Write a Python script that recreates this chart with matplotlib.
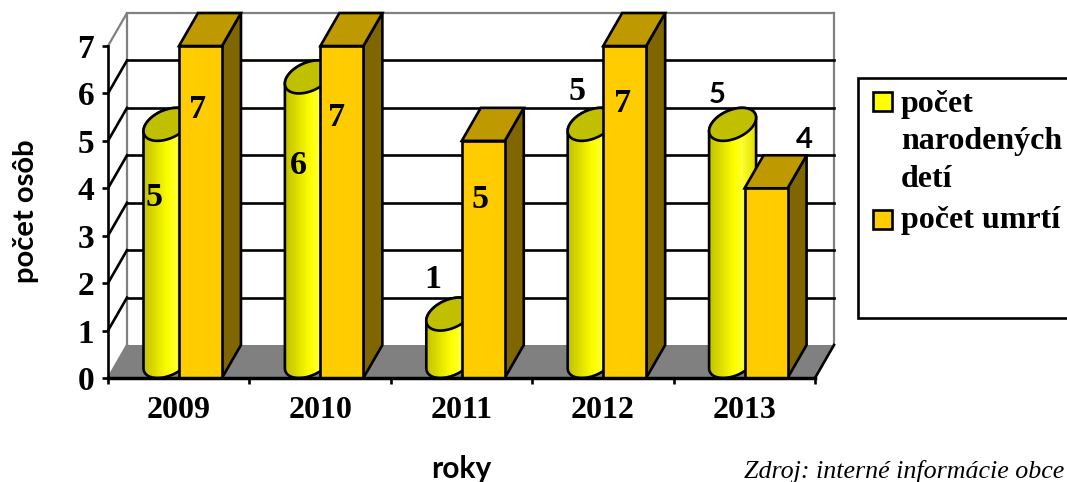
import numpy as np
import matplotlib
matplotlib.use("Agg")
import matplotlib.pyplot as plt
from matplotlib.patches import Polygon, Rectangle
from matplotlib.transforms import Affine2D
from matplotlib.colors import LinearSegmentedColormap

years = ["2009", "2010", "2011", "2012", "2013"]
births = [5, 6, 1, 5, 5]
deaths = [7, 7, 5, 7, 4]
legend_births = ["počet", "narodených", "detí"]
legend_deaths = "počet umrtí"
y_title = "počet osôb"
x_title = "roky"
source = "Zdroj: interné informácie obce"

SERIF = "Liberation Serif"
SANS = "Lato"
W, H = 1067, 482
LW = 1.9
GW = 1.6
fig = plt.figure(figsize=(W / 100, H / 100), dpi=100, facecolor="white")
ax = fig.add_axes([108 / W, (H - 378) / H, 707 / W, 332 / H])
ax.patch.set_visible(False)
px = Affine2D().scale(1 / W, -1 / H).translate(0, 1) + fig.transFigure

ax.set_xlim(0, 5)
ax.set_ylim(0, 7)
DX = 19 / 141.4
DY = 33 / 47.43


def poly(points, **kw):
    kw.setdefault("clip_on", False)
    p = Polygon(points, closed=True, **kw)
    ax.add_patch(p)
    return p


# walls and floor
poly([(0, 0), (DX, DY), (5 + DX, DY), (5, 0)], facecolor="#808080", edgecolor="none", zorder=1)
for v in range(1, 7):
    ax.plot([DX, 5 + DX], [v + DY, v + DY], color="black", lw=LW, clip_on=False, zorder=1.2)
    ax.plot([0, DX], [v, v + DY], color="black", lw=LW, clip_on=False, zorder=1.2)
ax.plot([0, DX, DX], [7, 7 + DY, DY], color="#808080", lw=GW, clip_on=False, zorder=1.1)
ax.plot([5 + DX, 5 + DX], [DY, 7 + DY], color="#808080", lw=GW, clip_on=False, zorder=1.1)
ax.plot([DX, 5 + DX], [7 + DY, 7 + DY], color="#808080", lw=GW, clip_on=False, zorder=1.1)
ax.plot([0, DX], [0, DY], color="#808080", lw=GW, clip_on=False, zorder=1.3)
ax.plot([5, 5 + DX], [0, DY], color="black", lw=LW, clip_on=False, zorder=1.3)

cmap = LinearSegmentedColormap.from_list(
    "cyl",
    [(0, (0.76, 0.76, 0)), (0.3, (0.9, 0.9, 0)), (0.55, (1, 1, 0)), (0.72, (1, 1, 0.2)), (1, (0.88, 0.88, 0))],
)
BW = 0.304
B0 = 0.198
ts = np.linspace(0, 2 * np.pi, 121)

for i, (b, d) in enumerate(zip(births, deaths)):
    x0 = i + B0
    ux, vx, vy = BW / 2, DX / 2, DY / 2
    cx = x0 + BW / 2 + vx
    t0 = np.arctan2(vx, ux)
    low = np.linspace(t0 + np.pi, t0 + 2 * np.pi, 60)
    up = np.linspace(t0, t0 + np.pi, 60)
    xl = cx + ux * np.cos(low) + vx * np.sin(low)
    yl = vy + vy * np.sin(low)
    xu = cx + ux * np.cos(up) + vx * np.sin(up)
    yu = b + vy + vy * np.sin(up)
    body_pts = np.column_stack([np.r_[xl, xu], np.r_[yl, yu]])
    body = poly(body_pts, facecolor="none", edgecolor="black", lw=LW, zorder=3, joinstyle="round")
    grad = np.linspace(0, 1, 22)[None, :]
    ext = np.hypot(ux, vx)
    im = ax.imshow(grad, cmap=cmap, extent=(cx - ext, cx + ext, 0, b + 2 * vy), aspect="auto",
                   interpolation="nearest", zorder=2.9)
    im.set_clip_path(body)
    ex = cx + ux * np.cos(ts) + vx * np.sin(ts)
    ey = b + vy + vy * np.sin(ts)
    poly(np.column_stack([ex, ey]), facecolor="#C0C000", edgecolor="black", lw=LW, zorder=3.1)

    x1 = i + B0 + BW
    ax.bar(x1, d, width=BW, align="edge", color="#FFCC00", edgecolor="black", lw=LW, zorder=4, clip_on=False)
    poly([(x1 + BW, 0), (x1 + BW + DX, DY), (x1 + BW + DX, d + DY), (x1 + BW, d)],
         facecolor="#7F6600", edgecolor="black", lw=LW, zorder=3.9)
    poly([(x1, d), (x1 + DX, d + DY), (x1 + BW + DX, d + DY), (x1 + BW, d)],
         facecolor="#BF9900", edgecolor="black", lw=LW, zorder=3.9)

ax.set_xlim(0, 5)
ax.set_ylim(0, 7)

# axes
for s in ["top", "right"]:
    ax.spines[s].set_visible(False)
ax.spines["left"].set_linewidth(LW)
ax.spines["bottom"].set_linewidth(2.5)
ax.spines["left"].set_zorder(5)
ax.spines["bottom"].set_zorder(5)
ax.set_yticks(range(0, 8))
ax.set_xticks(range(0, 6))
ax.set_xticklabels([])
ax.set_xticks(np.arange(len(years)) + 0.5, minor=True)
ax.set_xticklabels(years, minor=True, fontfamily=SERIF, fontweight="bold", fontsize=23)
ax.tick_params(axis="x", which="minor", length=0, pad=13)
ax.tick_params(axis="x", which="major", length=4, width=LW)
ax.tick_params(axis="y", length=4, width=LW, pad=6)
for t in ax.get_yticklabels():
    t.set_fontfamily(SERIF)
    t.set_fontweight("bold")
    t.set_fontsize(24)

# value labels
birth_pos = [(154, 198), (298, 166), (433, 280), (577, 91)]
death_pos = [(198, 110), (337, 117), (480, 200), (623, 104)]
for v, (x, y) in zip(births, birth_pos):
    fig.text(x, y, str(v), transform=px, ha="center", va="center", family=SERIF, weight="bold", fontsize=24.5, zorder=10)
for v, (x, y) in zip(deaths, death_pos):
    fig.text(x, y, str(v), transform=px, ha="center", va="center", family=SERIF, weight="bold", fontsize=24.5, zorder=10)
fig.text(717, 95, str(births[4]), transform=px, ha="center", va="center", family=SANS, weight="bold", fontsize=21, zorder=10)
fig.text(804, 140, str(deaths[4]), transform=px, ha="center", va="center", family=SANS, weight="bold", fontsize=21, zorder=10)

# titles
fig.text(26, 211, y_title, transform=px, rotation=90, ha="center", va="center", family=SANS, weight="bold", fontsize=21)
fig.text(461, 478, x_title, transform=px, ha="center", va="baseline", family=SANS, weight="bold", fontsize=21.5)
fig.text(744, 478, source, transform=px, ha="left", va="baseline", family=SERIF, style="italic", fontsize=18.7)

# legend
fig.add_artist(Rectangle((858, 78), 260, 240, transform=px, facecolor="white", edgecolor="black", lw=LW))
fig.add_artist(Rectangle((873, 92), 19, 19, transform=px, facecolor="#FFFF00", edgecolor="black", lw=LW))
fig.add_artist(Rectangle((873, 210), 19, 19, transform=px, facecolor="#FFCC00", edgecolor="black", lw=LW))
for line, base in zip(legend_births, [112, 149, 187]):
    fig.text(901, base, line, transform=px, ha="left", va="baseline", family=SERIF, weight="bold", fontsize=23)
fig.text(901, 228, legend_deaths, transform=px, ha="left", va="baseline", family=SERIF, weight="bold", fontsize=23)

fig.savefig("out.png", dpi=100)
